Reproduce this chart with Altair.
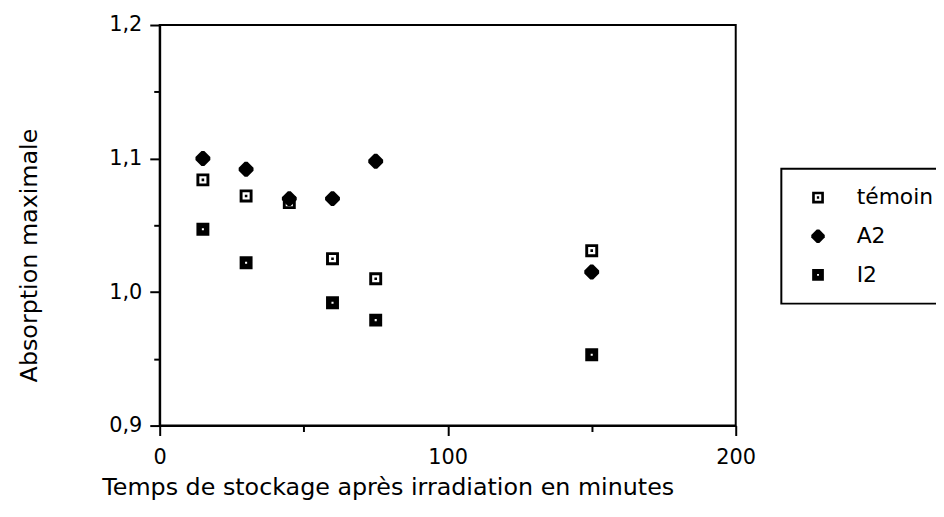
import altair as alt
import pandas as pd

times = [15, 30, 45, 60, 75, 150]
temoin = [1.084, 1.072, 1.067, 1.025, 1.010, 1.031]
a2 = [1.100, 1.092, 1.070, 1.070, 1.098, 1.015]
i2_times = [15, 30, 60, 75, 150]
i2 = [1.047, 1.022, 0.992, 0.979, 0.953]

series_names = ["témoin", "A2", "I2"]

rows = []
for t, v in zip(times, temoin):
    rows.append({"t": t, "v": v, "serie": "témoin"})
for t, v in zip(times, a2):
    rows.append({"t": t, "v": v, "serie": "A2"})
for t, v in zip(i2_times, i2):
    rows.append({"t": t, "v": v, "serie": "I2"})
df = pd.DataFrame(rows)

shape_temoin = ("M-1,-1H1V1H-1Z "
                "M-0.55,-0.55V0.55H0.55V-0.55Z "
                "M-0.2,-0.2H0.2V0.2H-0.2Z")
shape_a2 = ("M-0.22,-1.15L0.22,-1.15L1.15,-0.22L1.15,0.22L0.22,1.15L-0.22,1.15"
            "L-1.15,0.22L-1.15,-0.22Z")
shape_i2 = ("M-1,-1H1V1H-1Z "
            "M-0.16,-0.16V0.16H0.16V-0.16Z")

FONT = "DejaVu Sans"

x_axis = alt.Axis(
    values=[0, 50, 100, 150, 200],
    labelExpr="datum.value % 100 === 0 ? datum.label : ''",
    tickSize={"condition": {"test": "datum.value % 100 === 0", "value": 10}, "value": 6},
    grid=False,
    labelFlush=False,
    title="Temps de stockage après irradiation en minutes",
    titleFontSize=24,
    titleFontWeight="normal",
    titlePadding=9,
    titleX=230,
    labelFontSize=21,
    labelPadding=11,
)

y_axis = alt.Axis(
    values=[0.9, 0.95, 1.0, 1.05, 1.1, 1.15, 1.2],
    labelExpr="abs(datum.value*10 - round(datum.value*10)) < 0.001 ? replace(format(datum.value, '.1f'), '.', ',') : ''",
    tickSize={"condition": {"test": "abs(datum.value*10 - round(datum.value*10)) < 0.001", "value": 10}, "value": 6},
    grid=False,
    labelFlush=False,
    title="Absorption maximale",
    titleFontSize=24,
    titleFontWeight="normal",
    titlePadding=68,
    titleY=232,
    labelFontSize=21,
    labelPadding=8,
)

chart = alt.Chart(df).mark_point(filled=True, opacity=1, strokeWidth=0).encode(
    x=alt.X("t:Q", scale=alt.Scale(domain=[0, 200], nice=False, zero=False), axis=x_axis),
    y=alt.Y("v:Q", scale=alt.Scale(domain=[0.9, 1.2], nice=False, zero=False), axis=y_axis),
    shape=alt.Shape(
        "serie:N",
        scale=alt.Scale(domain=series_names, range=[shape_temoin, shape_a2, shape_i2]),
        legend=alt.Legend(
            title=None,
            orient="none",
            legendX=627,
            legendY=145,
            padding=18,
            strokeColor="black",
            symbolSize=140,
            symbolFillColor="black",
            symbolStrokeWidth=0,
            symbolOffset=8,
            labelOffset=28,
            labelFontSize=22,
            rowPadding=17,
            labelExpr="datum.label + '\u00a0\u00a0\u00a0\u00a0'",
        ),
    ),
    size=alt.value(170),
    color=alt.value("black"),
).properties(
    width=581,
    height=404,
    autosize=alt.AutoSizeParams(type="none"),
    padding={"left": 153, "top": 15, "right": 202, "bottom": 85},
    background="white",
).configure(
    font=FONT,
).configure_view(
    stroke="black", strokeWidth=2
).configure_axis(
    domainColor="black", domainWidth=2, tickColor="black", tickWidth=2,
    labelColor="black", titleColor="black", labelFont=FONT, titleFont=FONT,
).configure_legend(
    labelFont=FONT, labelColor="black", strokeWidth=2,
)

chart.save("out.html", embed_options={"renderer": "svg", "actions": False})
